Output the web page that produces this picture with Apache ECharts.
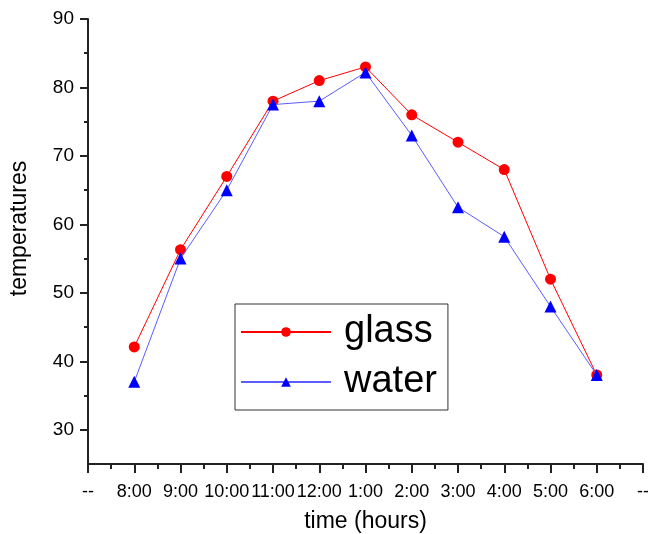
<!DOCTYPE html>
<html>
<head>
    <meta charset="utf-8">
    <title>temperatures</title>
    <script src="https://cdn.jsdelivr.net/npm/echarts@6/dist/echarts.min.js"></script>
    <style>
        html, body { margin: 0; padding: 0; background: #fff; }
        #chart { width: 648px; height: 534px; }
    </style>
</head>
<body>
<div id="chart"></div>
<script type="text/javascript">
// data
var times = ['8:00', '9:00', '10:00', '11:00', '12:00', '1:00', '2:00', '3:00', '4:00', '5:00', '6:00'];
var xTickLabels = ['--'].concat(times, ['--']);
var glass = [42.1, 56.3, 67, 78, 81, 83, 76, 72, 68, 52, 38];
var water = [37, 55, 65, 77.5, 78, 82.2, 73, 62.5, 58.2, 48, 38];
var yMajor = [30, 40, 50, 60, 70, 80, 90];
var yMinor = [35, 45, 55, 65, 75, 85];

var font = 'Liberation Sans, Arial, sans-serif';
var axisColor = '#222';

function toPoints(arr) {
    return arr.map(function (v, i) { return [i + 1, v]; });
}

var chart = echarts.init(document.getElementById('chart'));
chart.setOption({
    backgroundColor: '#fff',
    animation: false,
    grid: { left: 88, right: 5, top: 19, bottom: 70, outerBoundsMode: 'none' },
    legend: {
        orient: 'vertical',
        left: 235, top: 304,
        padding: [8, 11, 8, 5],
        borderColor: '#333', borderWidth: 1,
        itemWidth: 90, itemHeight: 12, itemGap: 10,
        textStyle: { fontFamily: font, fontSize: 38, color: '#000', lineHeight: 40, padding: [0, 0, 0, 8] },
        data: ['glass', 'water']
    },
    xAxis: {
        type: 'value', min: 0, max: 12, interval: 1,
        name: 'time (hours)', nameLocation: 'middle', nameGap: 46,
        nameTextStyle: { fontFamily: font, fontSize: 23, color: '#000' },
        axisLine: { lineStyle: { color: axisColor, width: 2 } },
        axisTick: { length: 9, lineStyle: { color: axisColor, width: 2 } },
        minorTick: { show: true, splitNumber: 2, length: 5, lineStyle: { color: axisColor, width: 2 } },
        splitLine: { show: false },
        axisLabel: {
            margin: 19, fontFamily: font, fontSize: 18, color: '#000',
            formatter: function (v) { return xTickLabels[v]; }
        }
    },
    yAxis: [{
        type: 'value', min: 25, max: 90,
        name: 'temperatures', nameLocation: 'middle', nameGap: 57,
        nameTextStyle: { fontFamily: font, fontSize: 23, color: '#000', padding: [0, 0, 0, 26] },
        axisLine: { show: true, lineStyle: { color: axisColor, width: 2 } },
        axisTick: { show: true, length: 8, customValues: yMajor, lineStyle: { color: axisColor, width: 2 } },
        splitLine: { show: false },
        axisLabel: { margin: 14, customValues: yMajor, fontFamily: font, fontSize: 19, color: '#000' }
    }, {
        type: 'value', min: 25, max: 90, position: 'left',
        axisLine: { show: false },
        axisTick: { show: true, length: 4, customValues: yMinor, lineStyle: { color: axisColor, width: 2 } },
        splitLine: { show: false },
        axisLabel: { show: false }
    }],
    series: [{
        name: 'glass', type: 'line',
        data: toPoints(glass),
        symbol: 'circle', symbolSize: 11,
        itemStyle: { color: '#ff0000' },
        lineStyle: { color: '#ff0000', width: 1 },
        z: 3
    }, {
        name: 'water', type: 'line',
        data: toPoints(water),
        symbol: 'triangle', symbolSize: 12,
        itemStyle: { color: '#0000ff' },
        lineStyle: { color: '#5c5cff', width: 1 },
        z: 4
    }]
});
</script>
</body>
</html>
